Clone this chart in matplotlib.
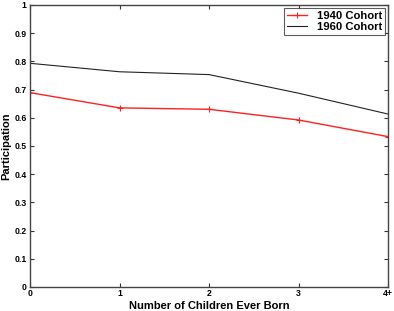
import matplotlib
matplotlib.use("Agg")
import matplotlib.pyplot as plt

# ---- data -----------------------------------------------------------------
children = [0, 1, 2, 3, 4]
tick_labels = ["0", "1", "2", "3", "4+"]
cohort_1940 = [0.689, 0.635, 0.630, 0.592, 0.533]
cohort_1960 = [0.793, 0.763, 0.753, 0.687, 0.613]

plt.rcParams.update({
    "font.family": ["Liberation Sans", "DejaVu Sans"],
    "font.weight": "bold",
})

fig = plt.figure(figsize=(3.94, 3.11), dpi=100)
ax = fig.add_axes([0.0761, 0.0772, 0.909, 0.907])

ax.plot(children, cohort_1940, color="#ff2020", lw=1.0, marker="+",
        markersize=5, markeredgewidth=0.8, label="1940 Cohort")
ax.plot(children, cohort_1960, color="#222222", lw=0.8, label="1960 Cohort")

ax.set_xlim(0, 4)
ax.set_ylim(0, 1)
ax.set_xticks(children)
ax.set_xticklabels(tick_labels)
ax.set_yticks([0, 0.1, 0.2, 0.3, 0.4, 0.5, 0.6, 0.7, 0.8, 0.9, 1])
ax.set_yticklabels(["0", "0.1", "0.2", "0.3", "0.4", "0.5", "0.6", "0.7",
                    "0.8", "0.9", "1"])
ax.tick_params(direction="in", length=3, width=0.8, labelsize=6.2,
               top=True, right=True, color="#333333")
ax.tick_params(axis="x", pad=1.5)
ax.tick_params(axis="y", pad=2.5)
for lab in ax.get_xticklabels() + ax.get_yticklabels():
    lab.set_fontweight("bold")
for sp in ax.spines.values():
    sp.set_linewidth(1.0)
    sp.set_color("#444444")

ax.set_xlabel("Number of Children Ever Born", fontsize=8, fontweight="bold",
              labelpad=2)
ax.set_ylabel("Participation", fontsize=8, fontweight="bold", labelpad=2)

leg = ax.legend(loc="upper right", fontsize=8.1, frameon=True, fancybox=False,
                borderpad=0.25, handlelength=1.8, labelspacing=0.15,
                borderaxespad=0.25, handletextpad=0.9)
leg.get_frame().set_edgecolor("#333333")
leg.get_frame().set_linewidth(0.8)
for t in leg.get_texts():
    t.set_fontweight("bold")

fig.savefig("out.png", dpi=100, facecolor="white")
